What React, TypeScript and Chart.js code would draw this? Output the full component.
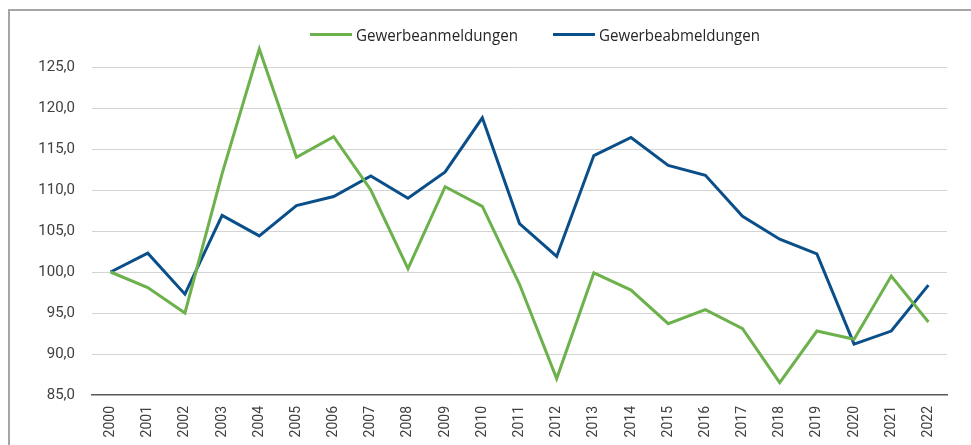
import React, { useEffect, useRef } from "react";
import { Chart, registerables } from "chart.js";

Chart.register(...registerables);

const years = ["2000","2001","2002","2003","2004","2005","2006","2007","2008","2009","2010","2011","2012","2013","2014","2015","2016","2017","2018","2019","2020","2021","2022"];
const anmeldungen = [100.0, 98.1, 95.0, 112.0, 127.2, 114.0, 116.5, 110.0, 100.4, 110.4, 108.0, 98.5, 87.0, 99.9, 97.8, 93.7, 95.4, 93.1, 86.5, 92.8, 91.8, 99.5, 93.9];
const abmeldungen = [100.0, 102.3, 97.3, 106.9, 104.4, 108.1, 109.2, 111.7, 109.0, 112.2, 118.8, 105.9, 101.9, 114.2, 116.4, 113.0, 111.8, 106.8, 104.0, 102.2, 91.2, 92.8, 98.4];
const seriesNames = ["Gewerbeanmeldungen", "Gewerbeabmeldungen"];
const seriesColors = ["#6DB14D", "#0B4F8A"];
const yMin = 85;
const yMax = 130;
const yStep = 5;

function LegendItem({ left, color, label, textWidth }: { left: number; color: string; label: string; textWidth: number }) {
  const textRef = useRef<HTMLSpanElement | null>(null);
  useEffect(() => {
    const el = textRef.current;
    if (el) {
      el.style.transform = "none";
      const w = el.getBoundingClientRect().width;
      if (w > 0) el.style.transform = `scaleX(${textWidth / w})`;
    }
  }, []);
  return (
    <div style={{ position: "absolute", left, top: 0 }}>
      <div style={{ position: "absolute", left: 0, top: 33.2, width: 42, height: 3, background: color }} />
      <span
        ref={textRef}
        style={{
          position: "absolute",
          left: 46,
          top: 23,
          fontFamily: "'Open Sans', 'Noto Sans', sans-serif",
          fontSize: 16.5,
          color: "#262626",
          whiteSpace: "nowrap",
          transformOrigin: "left center",
          display: "inline-block",
        }}
      >
        {label}
      </span>
    </div>
  );
}

export default function App() {
  const canvasRef = useRef<HTMLCanvasElement | null>(null);

  useEffect(() => {
    if (!canvasRef.current) return;
    const chart = new Chart(canvasRef.current, {
      type: "line",
      data: {
        labels: years,
        datasets: [
          {
            label: seriesNames[0],
            data: anmeldungen,
            borderColor: seriesColors[0],
            backgroundColor: seriesColors[0],
            borderWidth: 3,
            pointRadius: 0,
            tension: 0,
          },
          {
            label: seriesNames[1],
            data: abmeldungen,
            borderColor: seriesColors[1],
            backgroundColor: seriesColors[1],
            borderWidth: 3,
            pointRadius: 0,
            tension: 0,
          },
        ],
      },
      options: {
        animation: false,
        responsive: false,
        maintainAspectRatio: false,
        layout: { padding: { left: 0, right: 24, top: 23.75, bottom: 0 } },
        plugins: { legend: { display: false }, tooltip: { enabled: false } },
        scales: {
          x: {
            offset: true,
            grid: { display: false, drawTicks: false },
            border: { display: true, color: "#595959", width: 1.5 },
            ticks: {
              minRotation: 90,
              maxRotation: 90,
              autoSkip: false,
              padding: 11,
              color: "#404040",
              font: { family: "Roboto, 'Liberation Sans', sans-serif", size: 14 },
            },
            afterFit: (s: any) => { s.height = 50; },
          },
          y: {
            min: yMin,
            max: yMax,
            grid: {
              drawTicks: false,
              color: (ctx: any) => (ctx.tick && (ctx.tick.value === yMax || ctx.tick.value === yMin) ? "rgba(0,0,0,0)" : "#d4d4d4"),
              lineWidth: 1,
            },
            border: { display: false },
            ticks: {
              stepSize: yStep,
              padding: 17,
              color: "#404040",
              font: { family: "Roboto, 'Liberation Sans', sans-serif", size: 15 },
              callback: (v: any) => (v === yMax ? "" : Number(v).toFixed(1).replace(".", ",")),
            },
            afterFit: (s: any) => { s.width = 92; },
          },
        },
      },
    });
    return () => chart.destroy();
  }, []);

  return (
    <div style={{ position: "absolute", left: 0, top: 0, width: 971, height: 445, background: "#fff", overflow: "hidden" }}>
      <div style={{ position: "absolute", left: 8, top: 9, right: -10, bottom: -10, borderLeft: "2px solid #a6a6a6", borderTop: "2px solid #a6a6a6" }} />
      <canvas ref={canvasRef} width={971} height={445} style={{ position: "absolute", left: 0, top: 0, width: 971, height: 445 }} />
      <LegendItem left={310} color={seriesColors[0]} label={seriesNames[0]} textWidth={162} />
      <LegendItem left={552.7} color={seriesColors[1]} label={seriesNames[1]} textWidth={161} />
    </div>
  );
}
